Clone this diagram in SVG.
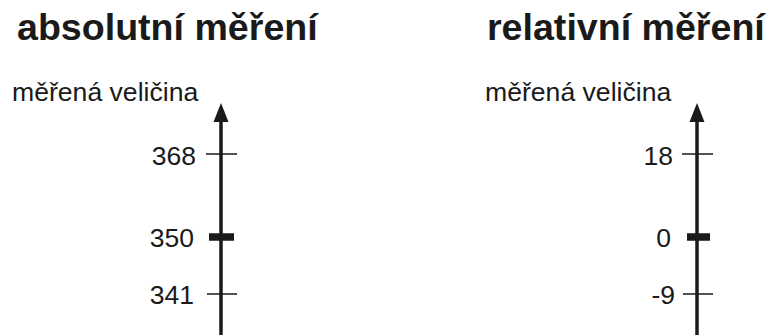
<svg xmlns="http://www.w3.org/2000/svg" width="768" height="335" viewBox="0 0 768 335">
<style>
.title{font-family:"Liberation Sans",Arial,sans-serif;font-weight:bold;font-size:37.6px;fill:#1a1a1a}
.lbl{font-family:"Liberation Sans",Arial,sans-serif;font-size:26.6px;fill:#1a1a1a}
.num{font-family:"Liberation Sans",Arial,sans-serif;font-size:26.5px;fill:#1a1a1a;text-anchor:end}
.axis{stroke:#1a1a1a;stroke-width:3.5;fill:none}
.tick{stroke:#1a1a1a;stroke-width:1.5}
.major{stroke:#1a1a1a;stroke-width:7.5}
.head{fill:#1a1a1a}
</style>
<rect width="768" height="335" fill="#fff"/>
<g id="absolute">
<text class="title" x="17" y="40">absolutní měření</text>
<text class="lbl" x="12" y="101">měřená veličina</text>
<g id="axis-abs">
<line class="axis" x1="221" y1="335" x2="221" y2="118"/>
<polygon class="head" points="221,103 213.5,122 228.5,122"/>
<line class="tick" x1="206" y1="154" x2="237" y2="154"/>
<line class="major" x1="209" y1="237" x2="234" y2="237"/>
<line class="tick" x1="207" y1="294" x2="237" y2="294"/>
</g>
<text class="num" x="196" y="165">368</text>
<text class="num" x="194" y="247">350</text>
<text class="num" x="194" y="304">341</text>
</g>
<g id="relative">
<text class="title" x="487" y="40">relativní měření</text>
<text class="lbl" x="485" y="101">měřená veličina</text>
<g id="axis-rel">
<line class="axis" x1="697" y1="335" x2="697" y2="118"/>
<polygon class="head" points="697,103 689.5,122 704.5,122"/>
<line class="tick" x1="682" y1="154" x2="713" y2="154"/>
<line class="major" x1="687" y1="237" x2="710" y2="237"/>
<line class="tick" x1="683" y1="294" x2="713" y2="294"/>
</g>
<text class="num" x="673" y="165">18</text>
<text class="num" x="671" y="247">0</text>
<text class="num" x="675" y="304">-9</text>
</g>
</svg>
